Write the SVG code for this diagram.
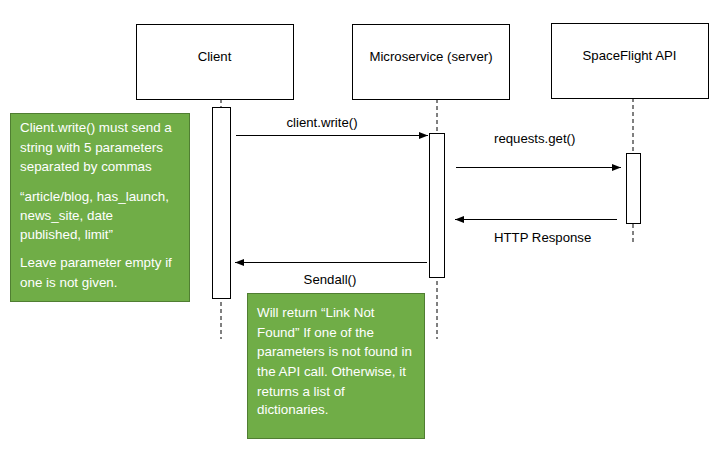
<svg xmlns="http://www.w3.org/2000/svg" width="717" height="454" viewBox="0 0 717 454">
<defs>
<style>
.hdr{fill:#fff;stroke:#000;stroke-width:1}
.act{fill:#fff;stroke:#000;stroke-width:1}
.life{stroke:#000;stroke-width:1;stroke-dasharray:4 3;fill:none}
.msg{stroke:#000;stroke-width:1;fill:none}
.note{fill:#70AD47;stroke:#507E32;stroke-width:1}
.t{font-family:"Liberation Sans",Arial,sans-serif;font-size:13.2px;fill:#000}
.nt{font-family:"Liberation Sans",Arial,sans-serif;font-size:13.4px;fill:#fff}
</style>
<marker id="ah" markerWidth="10" markerHeight="8" refX="9" refY="3.5" orient="auto" markerUnits="userSpaceOnUse">
<path d="M0,0 L9,3.5 L0,7 Z" fill="#000"/>
</marker>
</defs>
<rect width="717" height="454" fill="#fff"/>
<g id="lifelines">
<line class="life" x1="221" y1="99" x2="221" y2="339"/>
<line class="life" x1="437" y1="99" x2="437" y2="339"/>
<line class="life" x1="633" y1="98" x2="633" y2="243"/>
</g>
<g id="client">
<rect class="hdr" x="136.5" y="24.5" width="157" height="75"/>
<text class="t" x="214.5" y="61" text-anchor="middle">Client</text>
<rect class="act" x="212.5" y="107.5" width="18" height="191"/>
</g>
<g id="microservice">
<rect class="hdr" x="352.5" y="24.5" width="157" height="75"/>
<text class="t" x="431" y="61" text-anchor="middle">Microservice (server)</text>
<rect class="act" x="429.5" y="133.5" width="15" height="144"/>
</g>
<g id="spaceflight">
<rect class="hdr" x="551.5" y="23.5" width="157" height="75"/>
<text class="t" x="629.5" y="60" text-anchor="middle">SpaceFlight API</text>
<rect class="act" x="626.5" y="153.5" width="14" height="70"/>
</g>
<g id="connectors">
<line class="msg" x1="236" y1="135.5" x2="428" y2="135.5" marker-end="url(#ah)"/>
<text class="t" x="322" y="127" text-anchor="middle">client.write()</text>
<line class="msg" x1="456" y1="167.5" x2="621" y2="167.5" marker-end="url(#ah)"/>
<text class="t" x="494" y="143">requests.get()</text>
<line class="msg" x1="617" y1="219.5" x2="455" y2="219.5" marker-end="url(#ah)"/>
<text class="t" x="494" y="242">HTTP Response</text>
<line class="msg" x1="427" y1="262.5" x2="235" y2="262.5" marker-end="url(#ah)"/>
<text class="t" x="330" y="284" text-anchor="middle">Sendall()</text>
</g>
<g id="note-client">
<rect class="note" x="10.5" y="113.5" width="179" height="188"/>
<text class="nt" x="20" y="132">Client.write() must send a</text>
<text class="nt" x="20" y="152">string with 5 parameters</text>
<text class="nt" x="20" y="171">separated by commas</text>
<text class="nt" x="20" y="201">“article/blog, has_launch,</text>
<text class="nt" x="20" y="220">news_site, date</text>
<text class="nt" x="20" y="239">published, limit”</text>
<text class="nt" x="20" y="267">Leave parameter empty if</text>
<text class="nt" x="20" y="287">one is not given.</text>
</g>
<g id="note-return">
<rect class="note" x="247.5" y="293.5" width="177" height="145"/>
<text class="nt" x="257" y="317">Will return “Link Not</text>
<text class="nt" x="257" y="337">Found” If one of the</text>
<text class="nt" x="257" y="356">parameters is not found in</text>
<text class="nt" x="257" y="376">the API call. Otherwise, it</text>
<text class="nt" x="257" y="396">returns a list of</text>
<text class="nt" x="257" y="414">dictionaries.</text>
</g>
</svg>
